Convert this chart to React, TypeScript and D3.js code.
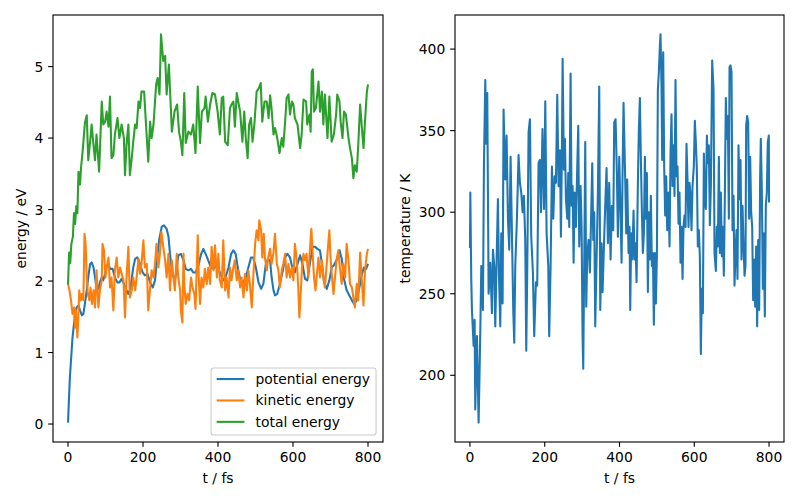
import React from "react";
import * as d3 from "d3";

// ---------- data ----------
const potT = [0,5,12,19,23,28,32,37,41,45,50,54,59,63,68,72,76,81,85,90,94,99,103,108,112,119,125,132,137,143,149,156,161,167,174,179,185,192,199,205,212,219,226,232,236,243,250,256,263,268,272,278,285,290,294,301,308,314,321,328,334,340,348,355,361,367,374,381,388,394,401,408,414,420,428,435,441,447,454,461,468,474,481,488,494,501,508,515,521,527,533,539,543,548,552,558,565,573,579,585,592,599,605,612,619,626,632,638,645,652,659,665,672,677,683,690,697,703,709,716,724,730,736,743,750,757,763,770,777,783,789,795,800];
const potE = [0.02,0.65,1.21,1.54,1.63,1.66,1.59,1.52,1.54,1.68,1.87,2.05,2.24,2.26,2.19,2.05,1.91,1.89,1.98,2.05,2.01,2.10,2.22,2.24,2.17,2.17,2.05,1.98,1.98,2.03,1.96,1.87,1.82,1.91,2.19,2.31,2.33,2.24,2.12,2.08,2.10,1.98,1.91,2.01,2.24,2.57,2.76,2.78,2.73,2.62,2.38,2.10,2.01,2.17,2.36,2.38,2.29,2.17,2.15,2.17,2.12,2.12,2.22,2.38,2.45,2.38,2.29,2.19,2.17,2.22,2.17,2.08,2.01,2.05,2.19,2.38,2.43,2.38,2.15,1.98,1.98,2.05,2.19,2.33,2.33,2.19,1.98,1.89,1.96,2.22,2.31,2.28,2.05,1.87,1.80,1.82,1.96,2.15,2.33,2.38,2.33,2.17,2.12,2.24,2.36,2.22,2.03,2.01,2.24,2.48,2.48,2.45,2.43,2.24,1.98,1.89,2.01,2.19,2.22,2.29,2.43,2.31,2.03,1.87,1.80,1.73,1.68,1.73,1.91,2.08,2.19,2.17,2.24];

const kinT = [0,4,8,12,16,19,21,25,28,30,34,37,41,44,47,50,53,57,60,64,68,72,76,81,85,90,92,96,100,103,108,112,116,121,125,130,134,139,143,148,152,156,161,165,170,174,179,183,188,192,196,201,205,210,214,219,223,228,232,236,241,245,249,254,259,263,268,272,277,281,285,290,294,299,301,305,308,310,314,319,323,328,332,337,340,346,349,352,356,361,365,370,374,379,383,388,392,397,401,405,410,414,419,423,428,432,436,441,445,450,454,459,463,468,472,477,481,485,490,494,499,503,508,510,515,518,522,525,530,534,539,543,548,552,557,561,565,570,574,579,583,588,592,597,601,605,610,614,617,620,624,628,632,636,641,645,649,652,656,660,663,668,672,677,681,685,690,694,697,700,704,708,712,716,721,725,730,734,739,743,748,752,757,761,765,770,774,779,783,788,792,797,800];
const kinE = [1.96,1.87,1.73,1.54,1.63,1.35,1.59,1.21,1.54,1.87,1.73,1.82,1.73,2.66,2.52,2.05,1.82,1.73,1.91,1.68,1.87,1.63,2.15,1.63,1.87,2.01,2.52,2.43,2.05,2.19,2.33,1.91,2.05,1.59,2.15,2.33,2.05,2.19,2.10,2.01,1.49,2.05,2.48,1.77,1.87,2.05,1.87,2.05,2.31,2.10,2.24,2.57,2.19,2.24,1.59,1.91,2.15,2.05,2.24,2.52,2.19,2.38,2.69,2.48,2.29,2.05,2.38,1.87,2.29,2.05,1.87,2.38,2.05,1.87,1.59,1.42,2.38,1.96,1.68,1.82,1.73,2.05,1.91,1.82,1.61,2.64,2.01,1.68,2.05,1.91,2.17,1.96,2.19,1.96,2.48,2.15,2.50,2.05,2.38,2.01,1.91,2.57,1.87,2.05,1.77,2.19,2.01,2.19,2.29,2.01,2.15,1.91,2.05,1.77,2.10,1.87,2.15,1.96,1.63,2.05,2.52,2.71,2.57,2.85,2.71,2.33,2.66,2.33,2.15,2.33,2.45,2.24,2.40,2.66,2.24,2.15,1.91,2.15,2.24,2.38,2.05,2.24,2.05,2.19,2.01,2.52,2.29,1.91,1.49,1.77,2.19,2.38,2.29,2.38,2.05,2.43,2.73,2.43,2.05,1.87,2.05,2.33,2.05,2.29,2.05,1.91,2.24,2.52,2.71,2.33,2.05,1.82,2.05,2.29,2.43,2.19,1.96,2.24,2.05,2.52,2.29,1.96,1.91,1.77,1.63,1.96,1.73,2.40,2.05,1.66,2.15,2.38,2.45];

const totT = [0,3,6,9,13,16,19,22,25,28,32,35,39,45,50,54,59,63,68,72,76,83,90,94,99,103,108,112,116,121,125,132,137,143,149,152,156,161,165,170,174,179,183,188,192,196,203,208,214,219,223,228,235,239,244,248,254,259,263,269,277,284,291,296,301,305,310,314,321,328,334,340,346,352,357,364,367,373,379,385,392,399,405,410,414,419,426,432,436,441,445,450,454,459,465,470,474,479,483,488,492,497,503,509,514,518,524,530,535,539,543,548,552,558,564,570,574,579,583,588,592,597,601,605,612,619,623,628,635,638,644,647,650,653,656,661,668,672,677,681,685,692,697,703,709,715,718,724,727,732,736,741,748,752,757,761,765,770,774,779,783,788,792,797,800];
const totE = [1.95,2.40,2.25,2.52,2.62,2.95,2.80,3.05,2.95,3.53,3.35,3.60,3.81,4.21,4.32,3.69,3.95,4.19,3.90,3.69,4.05,3.53,4.51,4.19,4.23,4.37,4.16,4.58,3.72,3.76,4.05,4.28,4.00,4.19,4.00,3.48,3.90,4.19,3.48,3.72,3.95,4.19,4.14,4.51,4.42,4.65,4.65,4.19,3.67,4.23,4.00,4.19,4.75,4.84,4.61,5.45,5.08,5.15,4.61,5.03,4.09,4.37,4.47,4.09,3.95,3.76,4.63,3.93,4.09,4.05,4.19,3.79,4.72,3.93,4.37,4.42,4.58,4.23,4.47,4.63,4.61,4.37,4.05,4.56,4.58,3.95,3.90,4.42,4.47,4.51,4.16,4.63,4.51,4.37,3.95,4.37,4.00,3.72,4.19,4.28,3.95,4.19,4.65,4.70,4.77,4.23,4.51,4.51,4.28,4.60,4.40,4.05,4.14,4.00,3.79,4.00,3.88,4.23,4.56,4.61,4.33,4.51,4.47,4.28,4.19,3.86,4.05,4.54,4.51,4.19,4.33,4.09,4.93,4.96,4.37,4.42,4.79,4.37,4.65,4.19,4.61,4.00,4.58,3.95,4.05,4.33,4.61,4.51,4.23,4.00,4.37,4.33,4.00,3.86,3.72,3.44,3.62,3.53,3.90,4.47,4.19,3.86,4.23,4.65,4.75];

const tempT = [0,1,3.5,5.3,9.8,12.5,14.2,18.7,23.2,27.6,30.3,34.7,37.4,41,43.6,46.3,49.9,54.3,58.8,61.5,65,67.7,71.3,74.8,77.5,81.1,83.7,87.3,89.9,94.4,98,101.6,105.1,108.7,112.3,115.8,118.5,121.2,125.6,130,133.6,137.2,140.8,144.3,147.9,150.6,153.2,156.8,160.4,163.9,168.4,171.9,176.4,179.9,183.5,187,190,194,198,201.5,205,209.5,212,215.7,219.3,222.8,226.4,230,233.5,237,240.7,243.3,246,247.8,251.3,254,256.7,260.3,262.9,265.6,269.2,271.8,274.5,277.2,279.9,283.4,287,289.7,292.3,295.9,298.6,301.2,303,305.7,308.4,311,313.7,317.3,320.8,323.5,327.1,329.8,332.4,335.1,338.7,342.2,345.8,348.5,352,354.7,358.3,361.8,365.4,369,372.5,376.1,379.6,383.2,385.9,389.5,393,395.7,399.3,402.8,405.5,408.2,410.8,415.3,418,420.6,424.2,426.9,428.7,431.3,434,437.6,440.2,442.9,445.6,449.2,451.8,454.5,457.2,459.9,462.5,465.2,467.9,470.5,473.2,475.9,478.6,481.2,483.9,486.6,489.3,491.9,494.6,497.3,500,502.6,505.3,508,509.7,512.4,514.2,516.9,519.5,522.2,524.9,527.6,531.1,533.8,536.5,539.1,541.8,544.5,547.2,549.8,552.5,555.2,557.9,560.5,563.2,565.9,568.6,571.2,573.9,576.6,579.2,581.9,584.6,587.3,589.9,592.6,595.3,598.8,601.5,604.2,606.9,609.5,612.2,614.9,617.6,620.2,623,625.7,628.3,631,633.7,636.3,639,641.7,644.4,647.9,651.5,654.2,657.7,660.4,663.1,665.8,668.4,671.1,673.8,676.4,679.1,681.8,684.5,687.1,689.8,692.5,694.3,696.9,699.6,702.3,705,707.6,710.3,713,715.6,718.3,721,723.7,726.3,729,731.7,734.4,737,738.8,741.5,744.2,746.8,749.5,752.2,754.9,757.5,760.2,762.9,765.5,768.2,770.9,773.6,776.2,778,780.7,783.4,786,788.7,791.4,794.1,796.7,799.4,800];
const tempK = [278,312,259,240,218,234,179,224,171,226,267,240,328,381,342,373,250,269,238,277,267,230,271,308,263,230,287,244,363,320,347,296,277,334,287,240,220,267,296,335,318,312,300,310,283,215,263,349,357,285,263,224,257,255,330,332,300,351,302,368,287,267,224,267,328,296,322,318,372,316,338,285,338,394,326,345,308,296,324,291,385,304,316,269,312,291,328,353,279,316,291,224,204,271,343,242,273,283,263,291,330,283,300,230,271,312,377,240,281,251,279,304,327,281,318,271,304,289,355,357,324,285,334,300,269,324,367,320,287,320,275,291,240,287,271,301,271,281,257,318,351,370,332,300,275,287,334,296,324,251,300,271,310,267,275,231,275,244,273,375,386,402,409,377,332,398,328,298,322,289,312,279,336,360,316,341,310,381,322,328,293,312,269,291,259,291,298,291,342,320,291,318,310,289,316,328,356,343,326,279,289,273,213,253,238,336,308,302,347,330,341,292,316,393,375,275,264,291,279,334,275,312,273,291,261,310,370,345,359,296,389,390,386,289,310,255,275,289,259,341,308,332,271,304,281,261,267,353,359,355,296,334,300,291,246,271,242,279,230,283,240,322,345,314,253,287,236,304,312,343,347,306];

const xTickVals = [0, 200, 400, 600, 800];
const energyTicks = [0, 1, 2, 3, 4, 5];
const tempTicks = [200, 250, 300, 350, 400];
const legendLabels = ["potential energy", "kinetic energy", "total energy"];

// ---------- styling ----------
const FONT = "DejaVu Sans, sans-serif";
const FS = 13.89;
const COLORS = ["#1f77b4", "#ff7f0e", "#2ca02c"];
const LW = 2.08;
const TICK = 4.86;
const PAD = 4.86;

type Series = { t: number[]; v: number[]; color: string };

function padDomain(vals: number[]): [number, number] {
  const [lo, hi] = d3.extent(vals) as [number, number];
  const m = (hi - lo) * 0.05;
  return [lo - m, hi + m];
}

function Panel(props: {
  id: string;
  x0: number; x1: number; y0: number; y1: number;
  series: Series[];
  yTicks: number[];
  ylabel: string;
  ylabelX: number;
  legend?: boolean;
}) {
  const { id, x0, x1, y0, y1, series, yTicks, ylabel, ylabelX, legend } = props;
  const allT = series.flatMap((s) => s.t);
  const allV = series.flatMap((s) => s.v);
  const xs = d3.scaleLinear().domain(padDomain(allT)).range([x0, x1]);
  const ys = d3.scaleLinear().domain(padDomain(allV)).range([y1, y0]);

  const lines = series.map((s) => {
    const gen = d3
      .line<number>()
      .x((_, i) => xs(s.t[i]))
      .y((v) => ys(v));
    return gen(s.v) || "";
  });

  // legend geometry (matplotlib lower right)
  const lgRight = x1 - 6.94;
  const lgBottom = y1 - 6.94;
  const lgW = 165;
  const lgH = 67;
  const lgLeft = lgRight - lgW;
  const lgTop = lgBottom - lgH;

  return (
    <g>
      <defs>
        <clipPath id={id}>
          <rect x={x0} y={y0} width={x1 - x0} height={y1 - y0} />
        </clipPath>
      </defs>
      <g clipPath={`url(#${id})`}>
        {lines.map((d, i) => (
          <path
            key={i}
            d={d}
            fill="none"
            stroke={series[i].color}
            strokeWidth={LW}
            strokeLinejoin="round"
          />
        ))}
      </g>
      {/* spines */}
      <rect x={x0} y={y0} width={x1 - x0} height={y1 - y0} fill="none" stroke="#000" strokeWidth={1.11} />
      {/* x ticks */}
      {xTickVals.map((t) => (
        <g key={t}>
          <line x1={xs(t)} x2={xs(t)} y1={y1} y2={y1 + TICK} stroke="#000" strokeWidth={1.11} />
          <text x={xs(t)} y={y1 + TICK + PAD} dy="0.76em" textAnchor="middle" fontFamily={FONT} fontSize={FS} fill="#000">
            {t}
          </text>
        </g>
      ))}
      {/* y ticks */}
      {yTicks.map((v) => (
        <g key={v}>
          <line x1={x0 - TICK} x2={x0} y1={ys(v)} y2={ys(v)} stroke="#000" strokeWidth={1.11} />
          <text x={x0 - TICK - PAD} y={ys(v)} dy="0.36em" textAnchor="end" fontFamily={FONT} fontSize={FS} fill="#000">
            {v}
          </text>
        </g>
      ))}
      <text x={(x0 + x1) / 2} y={483} textAnchor="middle" fontFamily={FONT} fontSize={FS} fill="#000">
        t / fs
      </text>
      <text
        transform={`translate(${ylabelX},${(y0 + y1) / 2}) rotate(-90)`}
        textAnchor="middle"
        fontFamily={FONT}
        fontSize={FS}
        fill="#000"
      >
        {ylabel}
      </text>
      {legend && (
        <g>
          <rect
            x={lgLeft}
            y={lgTop}
            width={lgW}
            height={lgH}
            rx={2.8}
            fill="#fff"
            fillOpacity={0.8}
            stroke="#cccccc"
            strokeWidth={1.11}
          />
          {legendLabels.map((lab, i) => {
            const cy = lgTop + 11 + i * 21.4;
            return (
              <g key={lab}>
                <line x1={lgLeft + 5.6} x2={lgLeft + 33.4} y1={cy} y2={cy} stroke={COLORS[i]} strokeWidth={LW} />
                <text x={lgLeft + 44.5} y={cy} dy="0.36em" fontFamily={FONT} fontSize={FS} fill="#000">
                  {lab}
                </text>
              </g>
            );
          })}
        </g>
      )}
    </g>
  );
}

export default function App() {
  const energySeries: Series[] = [
    { t: potT, v: potE, color: COLORS[0] },
    { t: kinT, v: kinE, color: COLORS[1] },
    { t: totT, v: totE, color: COLORS[2] },
  ];
  const tempSeries: Series[] = [{ t: tempT, v: tempK, color: COLORS[0] }];
  return (
    <svg
      width={800}
      height={500}
      viewBox="0 0 800 500"
      style={{ position: "absolute", left: 0, top: 0, background: "#fff" }}
    >
      <rect x={0} y={0} width={800} height={500} fill="#fff" />
      <Panel
        id="clipL"
        x0={53}
        x1={383}
        y0={15}
        y1={442}
        series={energySeries}
        yTicks={energyTicks}
        ylabel="energy / eV"
        ylabelX={26}
        legend
      />
      <Panel
        id="clipR"
        x0={455}
        x1={784}
        y0={15}
        y1={442}
        series={tempSeries}
        yTicks={tempTicks}
        ylabel="temperature / K"
        ylabelX={410}
      />
    </svg>
  );
}
